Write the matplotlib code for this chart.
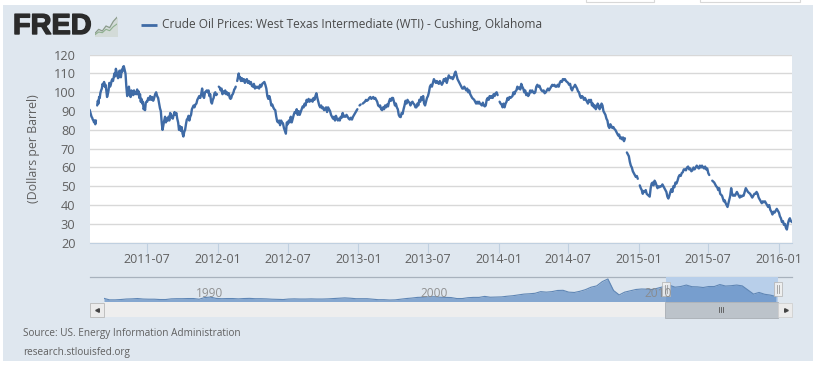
import matplotlib
matplotlib.use("Agg")
import matplotlib.pyplot as plt
import matplotlib.patheffects as pe
from matplotlib.patches import Rectangle
import pandas as pd

W, H = 813, 367
n = float("nan")

# WTI price readings by month, evenly spread through each month
wti_2011 = {
 "2011-02": [90.7, 89.5, 88.5, 87, 86.5, 85.5, 85, 84, 85, 83, 85, n, 93, 95.5, 94, 97.5, 97],
 "2011-03": [99.6, 101, 102, 104.5, 103.5, 105.5, 103, 104, 101, 97.5, 99, 101, 105, 103, 104, 106],
 "2011-04": [107, 106, 108, 110, 108.5, 112.5, 111, 109, 107.5, 108, 111.5, 109.5, 108, 112, 111, 113.5],
 "2011-05": [113.9, 112, 110, 103, 98, 100, 103, 99, 97.5, 101, 100, 98.5, 101, 99],
 "2011-06": [100, 99, 101.5, 99, 100.5, 97, 99, 95, 96.5, 94, 95, 91, 92, 90.5, 94.5, 95],
 "2011-07": [95, 97, 96, 98, 96, 97.5, 95.5, 97, 99, 100, 98, 97],
 "2011-08": [94, 91.5, 90, 84, 80, 82.5, 85, 87, 84, 86, 85, 87, 85, 89],
 "2011-09": [88, 86.5, 86, 88, 89.5, 88, 89, 86, 84, 80, 82, 79.5, 81.5],
 "2011-10": [78, 76.5, 79, 80, 83, 85.5, 86, 87.5, 85, 87, 88, 91, 92, 93],
 "2011-11": [92, 93.5, 94, 96, 97, 98, 97, 99, 102, 98, 97, 100],
 "2011-12": [100.5, 101, 100, 101, 98, 99, 95, 94, 96, 97, 99.5, 100, 98.5, 99],
 "2012-01": [n, 103, 102.5, 101, 102, 99, 100.5, 99.5, 101, 99, 100, 98.5, 99.5],
 "2012-02": [97, 96.5, 97, 98.5, 99, 100, 101.5, 102, 103, n, 106, 108, 110, 107.5, 108],
 "2012-03": [106, 107.5, 106, 107, 105, 106.5, 107, 105, 106, 104.5, 105.5, 103.5],
 "2012-04": [103, 104.5, 102, 103, 102.5, 103, 102, 104, 103, 104.5, 105],
 "2012-05": [105.5, 104, 102, 98, 96.5, 98, 96, 93, 93.5, 92, 91, 90.5],
 "2012-06": [87, 84.5, 84, 85, 82.5, 85, 84, 83.5, 81, 79.5, 78, 84],
 "2012-07": [83, 85, 84, 87, 84, 86, 88, 89.5, 89, 91, 88, 90],
 "2012-08": [88, 89.5, 91, 92.5, 92, 94, 93, 96, 95, 96.5, 95, 96],
 "2012-09": [96, 95, 97, 96, 98, 99.5, 97, 95, 93, 92, 93, 91.5],
 "2012-10": [92, 90.5, 91, 92, 89.5, 92, 91, 90, 88, 87, 86, 87],
 "2012-11": [85, 87.5, 86, 85, 86, 85, 87, 86.5, 89, 87, 87.5, 87],
 "2012-12": [88, 87, 86, 85.5, 86.5, 85.5, 87, 88, 89, 90, 91],
 "2013-01": [n, 93, 93.5, n, 94, 94.5, 95, 96, 95.5, 96, 97],
 "2013-02": [97.5, 96.5, 97, 97.5, 96.5, 97, 96, 95, 93, 92.5, 93],
 "2013-03": [91, 90.5, 92, 91, 93, 92, 93.5, 92.5, 95, 96.5, 95.5, 97],
 "2013-04": [97, 95, 93, 94, 92, 91, 88, 87, 86.8, 89, 88.5, 91],
 "2013-05": [93, 95.5, 94, 96, 95, 94.5, 93, 94.5, 95, 94, 93.5, 92],
 "2013-06": [92, 94, 93, 96, 95, 97.5, 96, 98, 94, 93, 95, 97],
 "2013-07": [98, 100, 103, 104, 103, 105, 107, 106, 105, 106, 105, 104.5],
 "2013-08": [106, 105, 104, 105, 107, 106, 107.5, 105, 107, 109, 108, 107.5],
 "2013-09": [108, 107, 108, 110, 111, 109, 107, 106, 105, 104, 103, 102],
 "2013-10": [102, 103, 102, 101, 102, 100, 101, 99, 98, 97, 96.5, 96],
 "2013-11": [95, 94, 95, 94, 95, 94, 93.5, 93, 94.5, 93, 92.5, 93],
 "2013-12": [96, 97, 96, 98, 97, 98, 97, 99, 98, 99.5, 100, 98.5],
 "2014-01": [n, 95, 94, 93.5, 92, 94, 92, 94, 95, 97, 96, 97.5],
 "2014-02": [97, 97.5, 98, 100, 99, 100.5, 101, 103, 102, 102.5, 101.5],
 "2014-03": [104.5, 103, 102, 100, 101, 98.5, 99.5, 98, 99, 101, 100, 101],
 "2014-04": [100, 99.5, 100, 103, 104, 103, 103.5, 102, 101, 100.5, 101],
 "2014-05": [99.5, 100, 101, 102, 101, 102, 103, 104, 103.5, 104, 103],
 "2014-06": [103, 104, 103, 105, 106, 105.5, 107, 106.5, 107, 106, 105.5],
 "2014-07": [105, 104, 104.5, 102, 101, 102.5, 103, 104, 103, 102, 100.5, 100],
 "2014-08": [98, 97, 98, 97.5, 96, 97, 96, 95, 94, 96, 95, 96],
 "2014-09": [93, 94, 92, 93, 91, 92, 94, 93, 91, 92, 94, 93],
 "2014-10": [90, 89, 88, 86, 85, 82, 81, 83, 82, 81, 81.5, 80.5],
 "2014-11": [80, 79, 78, 77, 77.5, 75.5, 76, 75, 76, 74, 75.5, n],
 "2014-12": [68, 67, 66, 63, 61, 60, 58, 57, 56, 55, 55.5, 54],
 "2015-01": [n, 50.5, 49, 48, 46, 47.5, 47, 48, 46, 45.5, 45, 44.5],
 "2015-02": [49, 51.5, 52, 50.5, 53, 52, 50.5, 49, 50, 49.5, 50],
 "2015-03": [50, 51, 50, 49, 48, 47, 44.5, 43.5, 45, 47, 48.5, 47],
 "2015-04": [50, 49.5, 52, 51.5, 53, 55, 56, 55.5, 57, 57.5, 59],
 "2015-05": [59, 58.5, 60, 60.5, 59, 59.5, 58, 58.5, 60, 59, 60],
 "2015-06": [61, 60, 59.5, 61, 60, 61, 60, 59.5, 60.5, 59, 59.5],
 "2015-07": [57, 56, n, n, 53, 52.5, 52, 51, 50, 49.5, 48, 49],
 "2015-08": [46, 45.5, 45, 43.5, 42, 42.5, 41, 40, 39, 41, 43, 45, 49],
 "2015-09": [46, 45, 45.5, 45, 46, 47, 46, 45, 44, 45, 44.5, 45],
 "2015-10": [45, 47, 49, 48, 47, 46.5, 46, 45, 44, 45, 46],
 "2015-11": [46, 47, 46, 44, 43, 42, 41, 42, 41.5, 42, 41],
 "2015-12": [40, 39, 40, 37.5, 36.5, 35, 36.5, 36, 37, 38, 37],
 "2016-01": [36, 34, 33, 31, 31.5, 29.5, 30, 28, 27, 30, 32, 33],
 "2016-02": [31.5, 30, 34],
}
y_ticks = [20, 30, 40, 50, 60, 70, 80, 90, 100, 110, 120]
x_ticks = ["2011-07", "2012-01", "2012-07", "2013-01", "2013-07", "2014-01",
           "2014-07", "2015-01", "2015-07", "2016-01"]
legend_label = "Crude Oil Prices: West Texas Intermediate (WTI) - Cushing, Oklahoma"
y_label = "(Dollars per Barrel)"

# Overview navigator: one reading per quarter, 1986 Q1 onward
overview_start = "1986-01-01"
overview_values = [
 22, 13, 13, 15,  18, 19, 21, 18,  17, 17, 15, 15,  19, 20, 20, 21,
 21, 17, 27, 30,  22, 20, 21, 21,  19, 21, 22, 20,  20, 19, 17, 16,
 15, 18, 19, 18,  18, 19, 18, 18,  19, 21, 23, 25,  23, 20, 20, 20,
 17, 14, 14, 12,  13, 17, 21, 24,  28, 29, 31, 32,  29, 28, 27, 21,
 21, 26, 28, 28,  34, 29, 30, 31,  35, 38, 43, 48,  50, 53, 63, 60,
 63, 70, 71, 60,  58, 65, 75, 90,  98, 124, 140, 70,  43, 60, 68, 76,
 79, 78, 76, 85,  94, 102, 90, 94,  103, 93, 92, 88,  94, 94, 106, 97,
 99, 103, 98, 73,  48, 58, 47, 42,  33,
]
overview_year_labels = ["1990", "2000", "2010"]
selected_range = ("2011-02-02", "2016-02-04")

BLUE = "#3f6ba6"
TXT = "#606060"
PANEL = "#dfe7ef"
FONT = "Open Sans"


def box(x0, y0, x1, y1):
    return [x0 / W, 1 - y1 / H, (x1 - x0) / W, (y1 - y0) / H]


fig = plt.figure(figsize=(W / 100, H / 100), dpi=100, facecolor="white")
bg = fig.add_axes([0, 0, 1, 1])
bg.set_xlim(0, W)
bg.set_ylim(H, 0)
bg.axis("off")
bg.add_patch(Rectangle((3, 5), W, 356, fc=PANEL, ec="none"))
bg.add_patch(Rectangle((586, -3), 68, 5, fc="white", ec="#d8d8d8", lw=0.8))
bg.add_patch(Rectangle((700, -3), 100, 5, fc="white", ec="#d8d8d8", lw=0.8))

# Logo
logo_text = bg.text(13, 26, "FRED", fontsize=20.8, fontweight="bold", family="Liberation Sans",
                    color="#2b2b2b", va="center", ha="left")
logo_text.set_path_effects([pe.withStroke(linewidth=1.0, foreground="#2b2b2b")])
logo = fig.add_axes(box(95, 16, 117, 36))
logo.set_xlim(0, 6)
logo.set_ylim(0, 6)
logo.axis("off")
logo.fill_between([0, 1, 2, 3, 4, 5, 6], [0.4, 1.6, 1.2, 2.6, 2.2, 4, 5.4], 0, color="#d3dbd8")
logo.plot([0, 1, 2, 3, 4, 5, 6], [0.8, 2, 1.5, 3, 2.5, 4.4, 5.6], color="#8a9a8a", lw=0.9)
logo.plot([0, 1, 2, 3, 4, 5, 6], [0.4, 1.2, 1, 2, 1.6, 2.8, 3.6], color="#8fb08f", lw=0.8)

# Legend
bg.plot([141, 157], [25, 25], color=BLUE, lw=2, solid_capstyle="butt")
bg.text(162, 24.5, legend_label, fontsize=8.58, family=FONT, color="#4a4a4a", va="center", ha="left")

# Main chart
dates, vals = [], []
for month, values in wti_2011.items():
    start = pd.Timestamp(month + "-01")
    days = start.days_in_month
    for i, v in enumerate(values):
        dates.append(start + pd.Timedelta(days=days * i / len(values)))
        vals.append(v)

ax = fig.add_axes(box(90, 54.7, 792, 242.7))
ax.plot(dates, vals, color=BLUE, lw=1.7, solid_joinstyle="round", solid_capstyle="round")
ax.set_xlim(pd.Timestamp("2011-02-02"), pd.Timestamp("2016-02-04"))
ax.set_ylim(20, 120)
ax.set_yticks(y_ticks)
ax.set_xticks([pd.Timestamp(t + "-01") for t in x_ticks])
ax.set_xticklabels(x_ticks)
ax.grid(axis="y", color="#d8d8d8", lw=1)
ax.set_axisbelow(True)
for s in ("top", "right", "left"):
    ax.spines[s].set_visible(False)
ax.spines["bottom"].set_color("#c0d0e0")
ax.tick_params(axis="y", length=0, pad=10.5, labelsize=9.2, labelcolor=TXT)
ax.tick_params(axis="x", length=7, width=0.8, color="#c0d0e0", pad=0.5, labelsize=9, labelcolor=TXT)
for lb in ax.get_xticklabels() + ax.get_yticklabels():
    lb.set_family(FONT)
bg.text(33, 149, y_label, rotation=90, fontsize=8.9, family=FONT, color=TXT, va="center", ha="center")

# Navigator
od = pd.date_range(overview_start, periods=len(overview_values), freq="QS")
nav = fig.add_axes(box(104, 277, 778, 302))
nav.patch.set_alpha(0)
sel0, sel1 = [pd.Timestamp(s) for s in selected_range]
nav.axvspan(sel0, sel1, color="#b8cfea", lw=0, zorder=0)
nav.fill_between(od, overview_values, 0, color="#4f81bd", alpha=0.62, lw=0, zorder=1)
nav.plot(od, overview_values, color="#5f86b5", lw=0.8, zorder=2)
nav.set_xlim(pd.Timestamp("1986-01-01"), pd.Timestamp("2016-02-04"))
nav.set_ylim(0, 152)
nav.axis("off")
bg.plot([90, 792], [277.3, 277.3], color="#a8b2bd", lw=0.9)

# Scrollbar
bg2 = fig.add_axes([0, 0, 1, 1])
bg2.set_xlim(0, W)
bg2.set_ylim(H, 0)
bg2.axis("off")
bg2.patch.set_alpha(0)
bg2.add_patch(Rectangle((104, 302), 674, 15, fc="#eeeeee", ec="none"))
bg2.add_patch(Rectangle((665, 302), 113, 15.5, fc="#bcc3ca", ec="#a8aeb4", lw=0.6))
bg2.add_patch(Rectangle((90, 302.5), 14, 14.5, fc="#ebebeb", ec="#b8b8b8", lw=0.6))
bg2.add_patch(Rectangle((778, 302.5), 14, 14.5, fc="#ebebeb", ec="#d0d0d0", lw=0.6))
bg2.plot([97], [310], marker="<", ms=2.6, color="#444444")
bg2.plot([785.5], [310], marker=">", ms=2.6, color="#444444")
for x in (719, 721, 723):
    bg2.plot([x, x], [307, 312], color="#555555", lw=0.6)
for x in (665.5, 777.5):
    bg2.add_patch(Rectangle((x - 4, 282), 8, 14, fc="#f0f0f0", ec="#b5b5b5", lw=0.6, alpha=0.9))
    for dx in (-1, 1):
        bg2.plot([x + dx, x + dx], [285, 293], color="#9a9a9a", lw=0.6)
for label, x in zip(overview_year_labels, (210, 434, 658)):
    bg2.text(x, 293.5, label, fontsize=8.6, family=FONT, color="#888888", alpha=0.9, va="center", ha="center")

# Credits
bg2.text(23, 333.5, "Source: US. Energy Information Administration", fontsize=7.2, family=FONT,
         color=TXT, va="center", ha="left")
bg2.text(23, 352.5, "research.stlouisfed.org", fontsize=7.2, family=FONT, color=TXT, va="center", ha="left")

fig.savefig("out.png", dpi=100, facecolor="white")
